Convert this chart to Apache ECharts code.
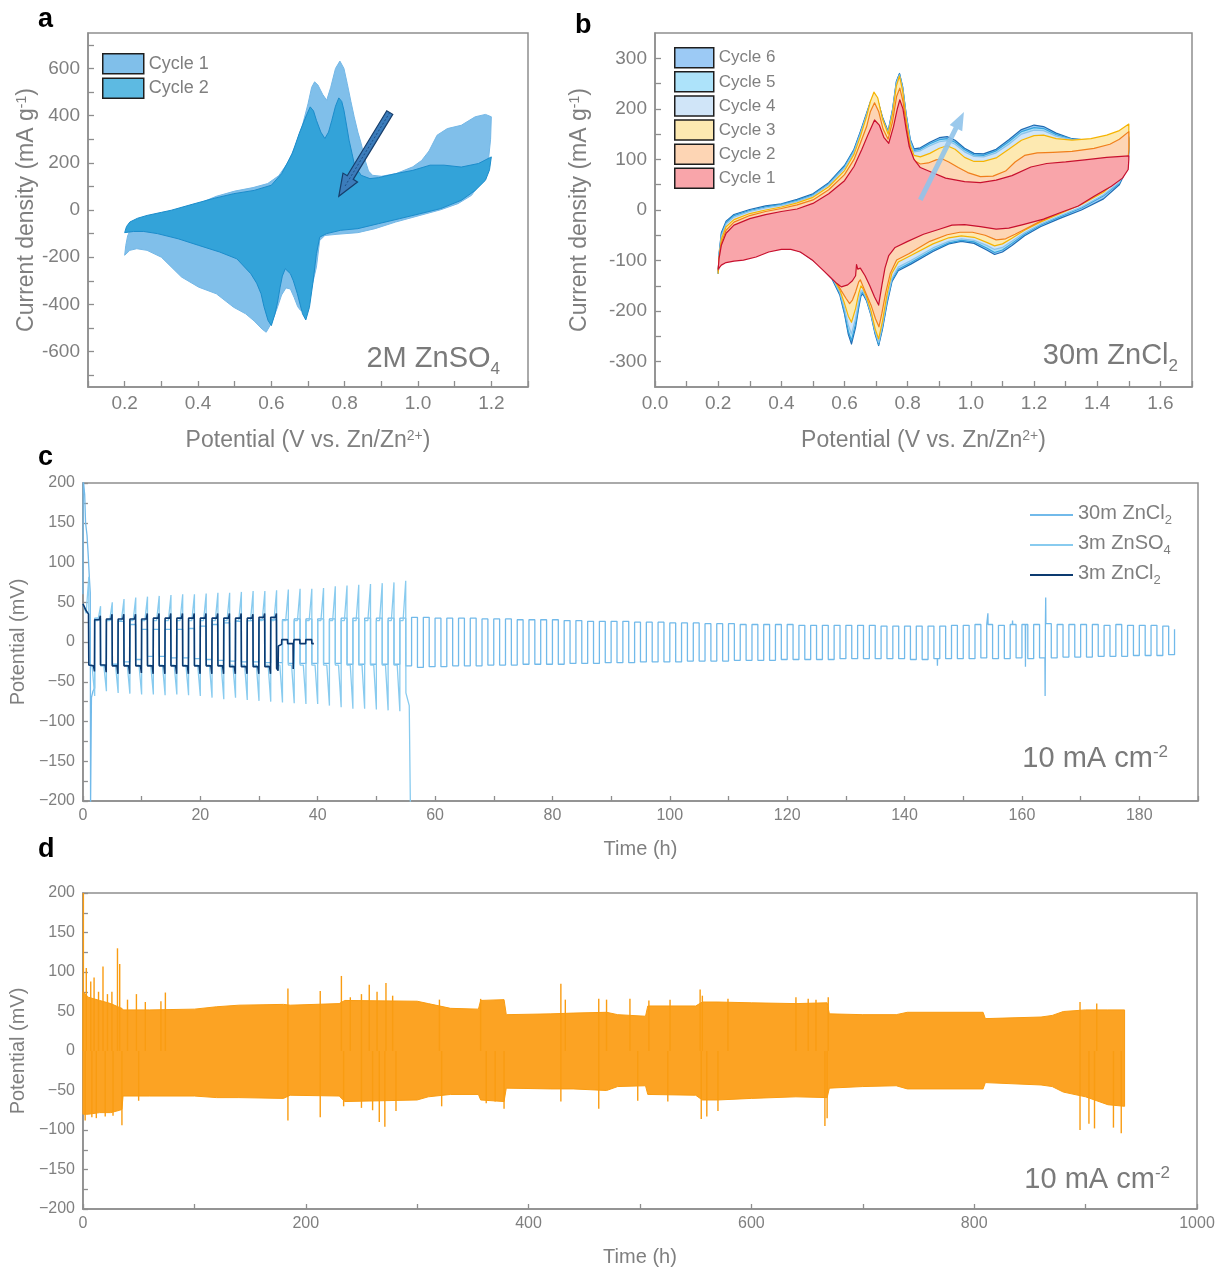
<!DOCTYPE html>
<html><head><meta charset="utf-8">
<script src="https://cdn.jsdelivr.net/npm/echarts@6/dist/echarts.min.js"></script>
<style>html,body{margin:0;padding:0;background:#fff}#c{width:1221px;height:1270px}</style>
</head><body><div id="c"></div>
<script>
// ---------------- DATA ----------------
// Panel a (2M ZnSO4) CV, [V, mA/g]
const aC1Up = [[0.2,-192],[0.203,-150],[0.208,-110],[0.215,-85],[0.23,-65],[0.26,-42],[0.3,-22],[0.35,0],[0.4,26],[0.45,58],[0.5,80],[0.55,95],[0.59,112],[0.62,145],[0.645,200],[0.665,270],[0.685,360],[0.7,450],[0.71,520],[0.718,543],[0.727,530],[0.74,490],[0.751,465],[0.762,520],[0.775,600],[0.787,631],[0.798,600],[0.807,536],[0.817,460],[0.826,395],[0.836,330],[0.845,282],[0.855,215],[0.865,165],[0.876,147],[0.9,143],[0.94,154],[0.986,183],[1.01,210],[1.03,250],[1.052,317],[1.08,345],[1.118,359],[1.156,395],[1.184,405],[1.2,395]];
const aC1Dn = [[1.198,300],[1.193,225],[1.175,126],[1.146,62],[1.109,27],[1.062,1],[1.005,-23],[0.939,-51],[0.883,-79],[0.836,-96],[0.779,-103],[0.746,-108],[0.732,-129],[0.723,-242],[0.708,-341],[0.694,-405],[0.68,-426],[0.672,-410],[0.662,-370],[0.652,-335],[0.64,-330],[0.628,-360],[0.615,-420],[0.6,-480],[0.586,-518],[0.575,-505],[0.553,-470],[0.53,-440],[0.497,-412],[0.45,-355],[0.402,-327],[0.355,-284],[0.3,-200],[0.261,-171],[0.233,-164],[0.214,-171],[0.2,-192]];
const aC2Up = [[0.2,-96],[0.205,-70],[0.214,-51],[0.235,-35],[0.261,-23],[0.3,-10],[0.327,-1],[0.384,24],[0.44,48],[0.497,69],[0.553,83],[0.6,105],[0.628,154],[0.657,239],[0.676,324],[0.694,395],[0.706,437],[0.715,420],[0.723,380],[0.735,330],[0.746,303],[0.756,330],[0.765,380],[0.775,440],[0.784,475],[0.792,460],[0.798,423],[0.805,360],[0.812,296],[0.82,240],[0.826,197],[0.835,170],[0.845,147],[0.869,133],[0.892,137],[0.939,154],[0.986,168],[1.033,190],[1.071,190],[1.118,182],[1.165,197],[1.2,225]];
const aC2Dn = [[1.195,170],[1.184,126],[1.156,83],[1.118,41],[1.062,6],[1.005,-16],[0.949,-37],[0.892,-58],[0.836,-79],[0.789,-86],[0.751,-100],[0.732,-115],[0.723,-185],[0.713,-313],[0.704,-412],[0.694,-466],[0.685,-440],[0.671,-355],[0.66,-300],[0.652,-270],[0.638,-249],[0.63,-280],[0.624,-327],[0.617,-390],[0.61,-440],[0.6,-490],[0.591,-468],[0.58,-410],[0.572,-355],[0.56,-310],[0.544,-270],[0.506,-207],[0.459,-178],[0.402,-150],[0.346,-122],[0.289,-100],[0.252,-91],[0.224,-91],[0.2,-96]];
const aArrow = [[0.923,413],[0.784,58]];

// Panel b (30m ZnCl2) CV
const bC1Up = [[0.2,-117],[0.203,-95],[0.21,-70],[0.225,-46],[0.25,-30],[0.3,-17],[0.35,-9],[0.4,-3],[0.45,2],[0.5,13],[0.55,32],[0.6,58],[0.63,86],[0.655,120],[0.675,150],[0.695,178],[0.71,168],[0.725,143],[0.74,132],[0.755,165],[0.767,200],[0.775,218],[0.785,200],[0.795,160],[0.805,125],[0.82,100],[0.84,84],[0.87,76],[0.92,63],[0.98,56],[1.03,54],[1.08,59],[1.13,68],[1.19,85],[1.24,92],[1.3,95],[1.36,99],[1.43,104],[1.5,107]];
const bC1Dn = [[1.5,100],[1.498,80],[1.48,63],[1.445,47],[1.39,27],[1.34,8],[1.28,-6],[1.23,-18],[1.165,-29],[1.12,-36],[1.08,-38],[1.03,-33],[0.98,-29],[0.94,-30],[0.9,-38],[0.85,-48],[0.8,-62],[0.76,-74],[0.74,-90],[0.728,-115],[0.718,-150],[0.708,-188],[0.695,-172],[0.68,-150],[0.665,-130],[0.65,-115],[0.642,-117],[0.638,-108],[0.635,-130],[0.625,-140],[0.61,-148],[0.59,-152],[0.575,-145],[0.555,-133],[0.53,-118],[0.5,-100],[0.46,-83],[0.43,-78],[0.4,-78],[0.36,-83],[0.32,-93],[0.28,-99],[0.25,-101],[0.225,-104],[0.21,-109],[0.2,-117]];
const bC2Up = [[0.2,-120],[0.203,-95],[0.21,-65],[0.225,-40],[0.25,-24],[0.3,-11],[0.35,-3],[0.4,3],[0.45,10],[0.5,20],[0.55,40],[0.6,70],[0.63,100],[0.65,132],[0.67,165],[0.682,195],[0.695,212],[0.708,195],[0.722,160],[0.738,140],[0.752,175],[0.765,225],[0.775,241],[0.785,215],[0.795,170],[0.808,120],[0.82,98],[0.84,91],[0.865,93],[0.89,99],[0.91,101],[0.93,95],[0.96,84],[0.99,74],[1.03,66],[1.07,67],[1.11,77],[1.14,95],[1.17,108],[1.21,113],[1.26,114],[1.32,116],[1.39,122],[1.44,130],[1.47,140],[1.5,155]];
const bC2Dn = [[1.5,120],[1.497,93],[1.47,66],[1.42,38],[1.35,13],[1.28,-6],[1.23,-19],[1.18,-35],[1.14,-48],[1.11,-57],[1.08,-59],[1.045,-50],[1.005,-44],[0.965,-44],[0.925,-49],[0.87,-62],[0.805,-86],[0.765,-99],[0.745,-125],[0.73,-165],[0.718,-205],[0.709,-231],[0.698,-215],[0.685,-190],[0.67,-168],[0.658,-150],[0.65,-138],[0.645,-142],[0.635,-162],[0.625,-178],[0.616,-185],[0.605,-175],[0.59,-160],[0.575,-143],[0.54,-118],[0.5,-98],[0.45,-76],[0.4,-62],[0.35,-54],[0.3,-49],[0.25,-47],[0.225,-52],[0.21,-70],[0.203,-95],[0.2,-120]];
const bC3Up = [[0.2,-125],[0.203,-95],[0.21,-58],[0.225,-33],[0.25,-19],[0.3,-7],[0.35,0],[0.4,6],[0.45,14],[0.5,25],[0.55,46],[0.6,78],[0.63,110],[0.65,145],[0.67,185],[0.682,215],[0.693,233],[0.705,222],[0.72,180],[0.738,150],[0.752,190],[0.764,245],[0.774,265],[0.784,235],[0.795,180],[0.808,128],[0.82,108],[0.84,105],[0.87,112],[0.9,122],[0.925,127],[0.95,120],[0.98,104],[1.01,96],[1.04,96],[1.08,103],[1.12,120],[1.16,138],[1.2,147],[1.23,148],[1.27,141],[1.32,138],[1.38,141],[1.43,148],[1.47,157],[1.5,170]];
const bC3Dn = [[1.5,125],[1.497,95],[1.47,62],[1.42,35],[1.35,11],[1.28,-8],[1.22,-24],[1.17,-40],[1.13,-56],[1.1,-67],[1.075,-71],[1.05,-64],[1.01,-54],[0.97,-51],[0.93,-55],[0.88,-67],[0.81,-90],[0.77,-103],[0.75,-125],[0.735,-165],[0.72,-220],[0.708,-255],[0.697,-235],[0.684,-200],[0.67,-172],[0.658,-155],[0.652,-150],[0.645,-165],[0.635,-195],[0.622,-222],[0.612,-210],[0.6,-185],[0.585,-158],[0.56,-130],[0.52,-105],[0.47,-82],[0.42,-66],[0.37,-56],[0.32,-50],[0.27,-47],[0.235,-48],[0.215,-60],[0.205,-85],[0.2,-125]];
const bC4Up = [[0.2,-125],[0.203,-90],[0.21,-52],[0.225,-28],[0.25,-14],[0.3,-3],[0.35,4],[0.4,9],[0.45,17],[0.5,28],[0.55,50],[0.6,83],[0.63,115],[0.65,150],[0.67,188],[0.682,212],[0.693,225],[0.705,215],[0.72,180],[0.738,152],[0.752,195],[0.764,250],[0.774,267],[0.784,240],[0.795,185],[0.808,135],[0.82,115],[0.84,117],[0.87,127],[0.9,135],[0.925,137],[0.95,130],[0.98,115],[1.01,106],[1.04,105],[1.08,113],[1.12,130],[1.16,150],[1.2,158],[1.23,157],[1.27,146],[1.32,139],[1.38,138],[1.43,140],[1.47,142],[1.5,145]];
const bC4Dn = [[1.5,120],[1.497,90],[1.47,55],[1.42,30],[1.35,6],[1.28,-12],[1.22,-28],[1.17,-45],[1.13,-62],[1.1,-74],[1.075,-78],[1.05,-70],[1.01,-60],[0.97,-57],[0.93,-62],[0.88,-75],[0.81,-100],[0.77,-113],[0.75,-135],[0.735,-175],[0.72,-228],[0.708,-262],[0.697,-240],[0.684,-205],[0.67,-176],[0.658,-160],[0.652,-160],[0.645,-180],[0.635,-215],[0.622,-245],[0.612,-228],[0.6,-195],[0.585,-162],[0.56,-132],[0.52,-107],[0.47,-84],[0.42,-68],[0.37,-57],[0.32,-51],[0.27,-48],[0.235,-49],[0.215,-62],[0.205,-88],[0.2,-125]];
const bC5Up = [[0.2,-125],[0.203,-88],[0.21,-48],[0.225,-25],[0.25,-11],[0.3,-1],[0.35,6],[0.4,11],[0.45,19],[0.5,30],[0.55,52],[0.6,86],[0.63,118],[0.65,153],[0.67,190],[0.682,213],[0.693,226],[0.705,216],[0.72,182],[0.738,154],[0.752,197],[0.764,252],[0.774,269],[0.784,242],[0.795,188],[0.808,138],[0.82,118],[0.84,120],[0.87,131],[0.9,139],[0.925,141],[0.95,134],[0.98,119],[1.01,109],[1.04,108],[1.08,117],[1.12,135],[1.16,155],[1.2,163],[1.23,161],[1.27,149],[1.32,140],[1.38,138],[1.43,139],[1.47,141],[1.5,144]];
const bC5Dn = [[1.5,118],[1.497,88],[1.47,53],[1.42,28],[1.35,4],[1.28,-14],[1.22,-30],[1.17,-48],[1.13,-66],[1.1,-79],[1.075,-84],[1.05,-75],[1.01,-63],[0.97,-60],[0.93,-65],[0.88,-79],[0.81,-104],[0.77,-117],[0.75,-139],[0.735,-180],[0.72,-232],[0.708,-266],[0.697,-243],[0.684,-207],[0.67,-178],[0.658,-163],[0.652,-165],[0.645,-188],[0.635,-225],[0.622,-258],[0.612,-240],[0.6,-202],[0.585,-165],[0.56,-134],[0.52,-108],[0.47,-85],[0.42,-69],[0.37,-58],[0.32,-52],[0.27,-49],[0.235,-50],[0.215,-63],[0.205,-90],[0.2,-125]];
const bC6Up = [[0.2,-125],[0.203,-85],[0.21,-45],[0.225,-22],[0.25,-9],[0.3,1],[0.35,8],[0.4,12],[0.45,21],[0.5,32],[0.55,54],[0.6,88],[0.63,120],[0.65,155],[0.67,192],[0.682,214],[0.693,227],[0.705,217],[0.72,184],[0.738,156],[0.752,199],[0.764,254],[0.774,270],[0.784,244],[0.795,190],[0.808,140],[0.82,121],[0.84,123],[0.87,134],[0.9,143],[0.925,145],[0.95,138],[0.98,122],[1.01,112],[1.04,111],[1.08,120],[1.12,139],[1.16,159],[1.2,168],[1.23,165],[1.27,152],[1.32,141],[1.38,137],[1.43,137],[1.47,139],[1.5,142]];
const bC6Dn = [[1.5,115],[1.497,85],[1.47,50],[1.42,22],[1.35,0],[1.28,-17],[1.22,-33],[1.17,-51],[1.13,-70],[1.1,-83],[1.075,-88],[1.05,-79],[1.01,-66],[0.97,-62],[0.93,-67],[0.88,-82],[0.81,-107],[0.77,-120],[0.75,-142],[0.735,-184],[0.72,-236],[0.708,-268],[0.697,-246],[0.684,-209],[0.67,-180],[0.658,-166],[0.652,-170],[0.645,-193],[0.635,-232],[0.622,-265],[0.612,-246],[0.6,-206],[0.585,-168],[0.56,-136],[0.52,-109],[0.47,-86],[0.42,-70],[0.37,-59],[0.32,-53],[0.27,-50],[0.235,-51],[0.215,-64],[0.205,-92],[0.2,-125]];
const bArrow = [[0.84,20],[0.978,194]];

// Panel c: galvanostatic cycling (time h, potential mV); half-cycle = 1 h
const cHalf = 1;
const cZc30Start = [[0,60],[0.05,205],[0.3,185],[0.45,150],[0.7,134],[0.9,109],[1.1,80],[1.25,62],[1.3,-205],[1.38,-205],[1.45,-70],[1.7,-62],[2.0,-58]];
const cZc30Up = [30,28,26,22,16,16,16,16,17,20, 22,24,26,27,28,28,28,29,29,29, 29,30,30,30,30,30,30,31,31,30, 30,30,30,29,29,29,28,28,28,28, 27,27,26,26,26,26,25,25,25,24, 24,24,23,23,23,22,22,22,22,22, 21,21,21,21,21,21,21,20,20,20, 20,20,20,21,21,22,22,21,22,22, 22,23,22,22,22,22,21,22,21,21, 21,20];
const cZc30Dn = [-30,-28,-25,-22,-18,-18,-20,-20,-21,-22, -23,-24,-25,-25,-26,-26,-27,-27,-27,-27, -27,-28,-28,-28,-28,-28,-30,-32,-31,-31, -30,-30,-30,-29,-29,-29,-28,-28,-28,-28, -27,-27,-27,-26,-26,-26,-25,-25,-25,-25, -24,-24,-24,-24,-23,-23,-23,-23,-22,-22, -22,-22,-22,-21,-21,-21,-21,-21,-21,-22, -22,-21,-21,-21,-21,-20,-21,-21,-20,-21, -20,-20,-19,-19,-19,-18,-18,-18,-17,-17, -17,-16];
const cZc30End = [[186,16]];
const cZc30Spikes = [[145.6,-30],[154.2,36],[158.4,27],[160.6,-31],[163.95,-68],[164.05,56]];
const cZso4Start = [[0,48],[0.55,36]];
const cZso4TipUp = [82,45,50,54,56,57,58,59,60,60,61,62,62,63,64,64,65,66,67,67,68,70,71,72,73,74,75,77];
const cZso4TipDn = [-68,-62,-64,-65,-66,-66,-67,-66,-67,-68,-70,-72,-70,-73,-74,-75,-76,-77,-78,-78,-80,-82,-84,-84,-85,-86,-87];
const cZso4PlatUp = 27, cZso4PlatDn = -29;
const cZso4End = [[55.03,-64],[55.6,-80],[55.8,-210]];
const cZc3Start = [[0,48],[0.5,40],[0.95,35],[1,35],[1,-29],[1.8,-30],[1.96,-37],[2,-38]];
const cZc3UpS = [28,29,29,29,29,30,30,30,30,30,30,30,30,30,31,31];
const cZc3UpE = [33,35,35,35,36,36,36,36,36,36,36,36,36,35,36,36];
const cZc3DnS = [-29,-30,-30,-30,-30,-30,-30,-30,-30,-30,-30,-31,-31,-31,-31,-33];
const cZc3DnE = [-38,-40,-40,-39,-40,-40,-40,-40,-40,-40,-40,-40,-40,-40,-40];
const cZc3Tail = [[33.25,-36],[33.3,-5],[33.85,-3],[33.88,3],[34.85,3],[34.88,-2],[35.8,-2],[35.83,-34],[35.9,-2],[35.97,3],[36.95,3],[36.98,-2],[37.95,-2],[37.98,3],[38.98,3],[39.0,-2],[39.35,-2]];

// Panel d: long-term cycling envelope (time h, upper/lower mV) + isolated spikes
const dT  = [0,5,15,25,33,35,36,60,100,120,140, 180,186,230,235,300,310,330,355,357,378, 380,420,440,470,480,505,507,550,556,570, 600,640,668,670,700,730,740,808,810,860, 870,880,900,920,935];
const dUp = [75,68,64,60,55,54,52,52,53,56,58, 59,58,60,64,63,60,54,53,64,65, 46,47,48,49,46,44,57,57,62,62, 61,60,61,47,46,46,49,49,41,43, 45,50,52,52,52];
const dLo = [-80,-80,-78,-78,-75,-74,-57,-57,-57,-59,-59, -60,-56,-57,-64,-62,-58,-55,-55,-62,-64, -47,-48,-48,-50,-45,-44,-55,-56,-62,-62, -60,-58,-59,-47,-45,-44,-48,-48,-40,-43, -45,-52,-58,-68,-70];
const dSpikes = [[0.4,200],[3,105],[7,88],[10,93],[14,75],[18,107],[22,72],[26,75],[31,130],[33,110],[40,65],[48,72],[56,62],[70,63],[74,74],[184,79],[213,76],[232,95],[240,68],[250,72],[257,84],[264,75],[272,86],[278,70],[320,65],[357,66],[429,85],[433,65],[463,66],[470,65],[491,66],[508,64],[527,65],[554,78],[556,70],[579,66],[640,68],[651,66],[658,65],[669,68],[895,62],[910,60],
  [2,-88],[8,-84],[12,-85],[20,-83],[27,-82],[35,-94],[50,-63],[184,-88],[213,-84],[234,-70],[250,-72],[260,-75],[266,-90],[271,-96],[281,-76],[322,-70],[362,-66],[370,-64],[378,-73],[429,-64],[463,-73],[498,-63],[525,-64],[555,-86],[560,-83],[570,-76],[666,-95],[668,-85],[895,-100],[903,-92],[908,-98],[925,-97],[932,-104]];

// tick values
const aYLabels = [-600,-400,-200,0,200,400,600];
const aYTicks = [-700,-600,-500,-400,-300,-200,-100,0,100,200,300,400,500,600,700];
const bYLabels = [-300,-200,-100,0,100,200,300];
const bYTicks = [-300,-250,-200,-150,-100,-50,0,50,100,150,200,250,300];

// ---------------- BUILD ----------------
const FONT = "'Liberation Sans', Arial, Helvetica, sans-serif";
const GRAY = '#7f7f7f';
const FRAME = '#8e8e8e';

function cvSeries(name, ai, up, dn, fill, stroke, lw) {
  const pts = up.concat(dn);
  return {
    type: 'custom', name: name, xAxisIndex: ai, yAxisIndex: ai, silent: true,
    data: [pts[0]],
    itemStyle: { color: fill },
    renderItem: function (params, api) {
      return { type: 'polygon', shape: { points: pts.map(p => api.coord(p)) },
        style: { fill: fill, stroke: stroke, lineWidth: lw, lineJoin: 'round' } };
    }
  };
}

// 30m ZnCl2
const zc30 = cZc30Start.slice();
for (let k = 0; k < cZc30Up.length; k++) {
  const t0 = 2 + 2 * k * cHalf;
  zc30.push([t0, cZc30Up[k]], [t0 + cHalf, cZc30Up[k]], [t0 + cHalf, cZc30Dn[k]], [t0 + 2 * cHalf, cZc30Dn[k]]);
}
cZc30End.forEach(p => zc30.push(p));
cZc30Spikes.forEach(([t, v]) => {
  for (let i = 0; i < zc30.length - 1; i++) {
    if (zc30[i][0] <= t && zc30[i + 1][0] > t) {
      const base = zc30[i][1];
      zc30.splice(i + 1, 0, [t - 0.03, base], [t, v], [t + 0.03, base]);
      break;
    }
  }
});
// 3m ZnSO4
const zso4 = cZso4Start.slice();
for (let k = 0; k < cZso4TipUp.length; k++) {
  const t0 = 2 * k * cHalf;
  if (k > 0) zso4.push([t0, cZso4PlatUp], [t0 + 0.55, cZso4PlatUp]);
  zso4.push([t0 + 1, cZso4TipUp[k]]);
  if (k < cZso4TipDn.length) zso4.push([t0 + 1, cZso4PlatDn], [t0 + 1.55, cZso4PlatDn], [t0 + 2, cZso4TipDn[k]]);
}
cZso4End.forEach(p => zso4.push(p));
// 3m ZnCl2
const zc3 = cZc3Start.slice();
for (let k = 0; k < cZc3UpS.length; k++) {
  const t0 = 2 + 2 * k;
  zc3.push([t0, cZc3UpS[k]], [t0 + 0.8, cZc3UpS[k]], [t0 + 0.96, cZc3UpE[k]], [t0 + 1, cZc3UpE[k]], [t0 + 1, cZc3DnS[k]]);
  if (k < cZc3DnE.length) zc3.push([t0 + 1.8, cZc3DnS[k]], [t0 + 1.96, cZc3DnE[k]], [t0 + 2, cZc3DnE[k]]);
}
cZc3Tail.forEach(p => zc3.push(p));

const dBand = dT.map((t, i) => [t, dUp[i]]).concat(dT.map((t, i) => [t, dLo[i]]).reverse());

function xAx(gi, min, max, interval, fs, fmt, name, gap, nfs, nameRich, tickLen) {
  return { gridIndex: gi, type: 'value', min, max, interval,
    axisLine: { show: true, onZero: false, lineStyle: { color: FRAME, width: 1.5 } },
    axisTick: { show: true, inside: true, length: tickLen, lineStyle: { color: FRAME, width: 1.3 } },
    splitLine: { show: false },
    axisLabel: { fontSize: fs, color: GRAY, fontFamily: FONT, margin: 7, formatter: fmt },
    name, nameLocation: 'middle', nameGap: gap,
    nameTextStyle: { fontSize: nfs, color: GRAY, fontFamily: FONT, rich: nameRich } };
}
function yAx(gi, min, max, fs, labelOpt, tickOpt, name, gap, nfs, nameRich, tickLen) {
  return { gridIndex: gi, type: 'value', min, max,
    axisLine: { show: true, onZero: false, lineStyle: { color: FRAME, width: 1.5 } },
    axisTick: Object.assign({ show: true, inside: true, length: tickLen, lineStyle: { color: FRAME, width: 1.3 } }, tickOpt),
    splitLine: { show: false },
    axisLabel: Object.assign({ fontSize: fs, color: GRAY, fontFamily: FONT, margin: 8 }, labelOpt),
    name, nameLocation: 'middle', nameGap: gap, nameRotate: 90,
    nameTextStyle: { fontSize: nfs, color: GRAY, fontFamily: FONT, rich: nameRich } };
}
const richName = {
  n: { fontSize: 23, color: GRAY, fontFamily: FONT, verticalAlign: 'top' },
  p: { fontSize: 14, color: GRAY, fontFamily: FONT, verticalAlign: 'top' }
};
const evenTenth = v => (Math.round(v * 10) % 2 === 0 ? v.toFixed(1) : '');
const mvFmt = v => (v % 50 === 0 ? (v < 0 ? '\u2212' + (-v) : String(v)) : '');

const bFills = ['#f9a5aa', '#fdd5b4', '#fde9b1', '#d0e5f8', '#ade3fa', '#9ccaf5'];
const bLines = ['#c8102e', '#f07f1b', '#f6b400', '#8cc3ea', '#34a3dc', '#1f6cb3'];
const bUps = [bC1Up, bC2Up, bC3Up, bC4Up, bC5Up, bC6Up];
const bDns = [bC1Dn, bC2Dn, bC3Dn, bC4Dn, bC5Dn, bC6Dn];

const series = [];
series.push(cvSeries('a1', 0, aC1Up, aC1Dn, '#80bfea', '#74b7e6', 1));
series.push(cvSeries('a2', 0, aC2Up, aC2Dn, '#33a3d9', '#1b8ccb', 1));
for (let i = 5; i >= 0; i--) series.push(cvSeries('b' + (i + 1), 1, bUps[i], bDns[i], bFills[i], bLines[i], 1.2));
series.push({ type: 'line', name: '30m ZnCl2', xAxisIndex: 2, yAxisIndex: 2, data: zc30, symbol: 'none', showSymbol: false, clip: true, lineStyle: { color: '#72baea', width: 1.3 }, itemStyle: { color: '#72baea' } });
series.push({ type: 'line', name: '3m ZnSO4', xAxisIndex: 2, yAxisIndex: 2, data: zso4, symbol: 'none', showSymbol: false, clip: true, lineStyle: { color: '#88cbef', width: 1.3 }, itemStyle: { color: '#88cbef' } });
series.push({ type: 'line', name: '3m ZnCl2', xAxisIndex: 2, yAxisIndex: 2, data: zc3, symbol: 'none', showSymbol: false, clip: true, lineStyle: { color: '#0c3a70', width: 1.6 }, itemStyle: { color: '#0c3a70' } });
series.push({ type: 'custom', name: 'dband', xAxisIndex: 3, yAxisIndex: 3, silent: true, data: [dBand[0]],
  renderItem: (p, api) => ({ type: 'polygon', shape: { points: dBand.map(q => api.coord(q)) }, style: { fill: '#fca323', stroke: '#f99c12', lineWidth: 1 } }) });
series.push({ type: 'custom', name: 'dspk', xAxisIndex: 3, yAxisIndex: 3, silent: true, clip: true, data: dSpikes,
  renderItem: (p, api) => {
    const a = api.coord([api.value(0), 0]), b = api.coord([api.value(0), api.value(1)]);
    return { type: 'line', shape: { x1: a[0], y1: a[1], x2: b[0], y2: b[1] }, style: { stroke: '#f99c12', lineWidth: 1.4 } };
  } });

const legendName = { a1: 'Cycle 1', a2: 'Cycle 2', b1: 'Cycle 1', b2: 'Cycle 2', b3: 'Cycle 3', b4: 'Cycle 4', b5: 'Cycle 5', b6: 'Cycle 6' };
const cLegendRich = { '30m ZnCl2': '{n|30m ZnCl}{s|2}', '3m ZnSO4': '{n|3m ZnSO}{s|4}', '3m ZnCl2': '{n|3m ZnCl}{s|2}' };

function annot(id, right, top, base, script, isSup) {
  return { type: 'text', id, x: right, y: top, silent: true,
    style: { text: '{n|' + base + '}{' + (isSup ? 'p' : 's') + '|' + script + '}', align: 'right', verticalAlign: 'top',
      rich: { n: { fontSize: 29, fill: '#7a7a7a', fontFamily: FONT, verticalAlign: 'top' },
              s: { fontSize: 17, fill: '#7a7a7a', fontFamily: FONT, verticalAlign: 'top', padding: [17, 0, 0, 0] },
              p: { fontSize: 17, fill: '#7a7a7a', fontFamily: FONT, verticalAlign: 'top' } } } };
}
function panelLabel(id, x, y, t) {
  return { type: 'text', id, x, y, silent: true, style: { text: t, fontSize: 27, fontWeight: 'bold', fill: '#000', fontFamily: FONT } };
}

const option = {
  animation: false,
  textStyle: { fontFamily: FONT },
  grid: [
    { left: 88, top: 33, width: 440, height: 354, show: true, borderColor: FRAME, borderWidth: 1.5 },
    { left: 655, top: 33, width: 537, height: 354, show: true, borderColor: FRAME, borderWidth: 1.5 },
    { left: 81, top: 483, width: 1117, height: 318, show: true, borderColor: FRAME, borderWidth: 1.5 },
    { left: 81, top: 893, width: 1116, height: 316, show: true, borderColor: FRAME, borderWidth: 1.5 }
  ],
  xAxis: [
    xAx(0, 0.1, 1.3, 0.1, 19, evenTenth, '{n|Potential (V vs. Zn/Zn}{p|2+}{n|)}', 42, 23, richName, 6),
    xAx(1, 0, 1.7, 0.1, 19, evenTenth, '{n|Potential (V vs. Zn/Zn}{p|2+}{n|)}', 42, 23, richName, 6),
    xAx(2, 0, 190, 10, 16, v => (v % 20 === 0 ? String(v) : ''), 'Time (h)', 38, 20, null, 5),
    xAx(3, 0, 1000, 100, 16, v => (v % 200 === 0 ? String(v) : ''), 'Time (h)', 38, 20, null, 5)
  ],
  yAxis: [
    yAx(0, -750, 750, 19, { customValues: aYLabels }, { customValues: aYTicks }, '{n|Current density (mA g}{p|-1}{n|)}', 48, 23, richName, 6),
    yAx(1, -350, 350, 19, { customValues: bYLabels }, { customValues: bYTicks }, '{n|Current density (mA g}{p|-1}{n|)}', 64, 23, richName, 6),
    Object.assign(yAx(2, -200, 200, 16, { formatter: mvFmt }, {}, 'Potential (mV)', 47, 20, null, 5), { interval: 25 }),
    Object.assign(yAx(3, -200, 200, 16, { formatter: mvFmt }, {}, 'Potential (mV)', 47, 20, null, 5), { interval: 25 })
  ],
  legend: [
    { left: 102, top: 53, orient: 'vertical', padding: 0, itemWidth: 41, itemHeight: 20, itemGap: 3, icon: 'rect', selectedMode: false,
      formatter: n => legendName[n], textStyle: { fontSize: 18, color: GRAY, fontFamily: FONT },
      data: [{ name: 'a1', itemStyle: { color: '#80bfea', borderColor: '#1e1e1e', borderWidth: 1.5 } },
             { name: 'a2', itemStyle: { color: '#5dbae2', borderColor: '#1e1e1e', borderWidth: 1.5 } }] },
    { left: 674, top: 47, orient: 'vertical', padding: 0, itemWidth: 39, itemHeight: 20, itemGap: 2.6, icon: 'rect', selectedMode: false,
      formatter: n => legendName[n], textStyle: { fontSize: 17, color: GRAY, fontFamily: FONT },
      data: [6, 5, 4, 3, 2, 1].map(i => ({ name: 'b' + i, itemStyle: { color: bFills[i - 1], borderColor: '#1e1e1e', borderWidth: 1.5 } })) },
    { left: 1030, top: 503, orient: 'vertical', padding: 0, itemWidth: 43, itemHeight: 2, itemGap: 6, icon: 'rect', selectedMode: false,
      formatter: n => cLegendRich[n],
      textStyle: { fontSize: 20, color: GRAY, fontFamily: FONT,
        rich: { n: { fontSize: 20, color: GRAY, fontFamily: FONT, verticalAlign: 'top' },
                s: { fontSize: 13, color: GRAY, fontFamily: FONT, verticalAlign: 'top', padding: [11, 0, 0, 0] } } },
      data: ['30m ZnCl2', '3m ZnSO4', '3m ZnCl2'] }
  ],
  series,
  graphic: { elements: [
    panelLabel('la', 38, 6, 'a'), panelLabel('lb', 575, 12, 'b'), panelLabel('lc', 38, 444, 'c'), panelLabel('ld', 38, 836, 'd'),
    annot('ta', 500, 344, '2M ZnSO', '4', false),
    annot('tb', 1178, 341, '30m ZnCl', '2', false),
    annot('tc', 1168, 744, '10 mA cm', '-2', true),
    annot('td', 1170, 1165, '10 mA cm', '-2', true)
  ] }
};

const chart = echarts.init(document.getElementById('c'), null, { renderer: 'canvas' });
chart.setOption(option);

function arrowPts(p1, p2, sw, hw, hl) {
  const dx = p2[0] - p1[0], dy = p2[1] - p1[1], L = Math.hypot(dx, dy), ux = dx / L, uy = dy / L, nx = -uy, ny = ux;
  const bx = p2[0] - ux * hl, by = p2[1] - uy * hl;
  return [[p1[0] + nx * sw / 2, p1[1] + ny * sw / 2], [bx + nx * sw / 2, by + ny * sw / 2], [bx + nx * hw / 2, by + ny * hw / 2], [p2[0], p2[1]],
          [bx - nx * hw / 2, by - ny * hw / 2], [bx - nx * sw / 2, by - ny * sw / 2], [p1[0] - nx * sw / 2, p1[1] - ny * sw / 2]];
}
const pa1 = chart.convertToPixel({ xAxisIndex: 0, yAxisIndex: 0 }, aArrow[0]);
const pa2 = chart.convertToPixel({ xAxisIndex: 0, yAxisIndex: 0 }, aArrow[1]);
const pb1 = chart.convertToPixel({ xAxisIndex: 1, yAxisIndex: 1 }, bArrow[0]);
const pb2 = chart.convertToPixel({ xAxisIndex: 1, yAxisIndex: 1 }, bArrow[1]);
chart.setOption({ graphic: { elements: [
  { type: 'polygon', id: 'arA', silent: true, z: 100, shape: { points: arrowPts(pa1, pa2, 7, 17, 22) }, style: { fill: '#3b7cbb', stroke: '#173e6b', lineWidth: 1.2 } },
  { type: 'line', id: 'arA2', silent: true, z: 101, shape: { x1: pa1[0], y1: pa1[1], x2: pa2[0] + (pa1[0] - pa2[0]) * 0.12, y2: pa2[1] + (pa1[1] - pa2[1]) * 0.12 }, style: { stroke: '#1d4f86', lineWidth: 1, lineDash: [2, 2] } },
  { type: 'polygon', id: 'arB', silent: true, z: 100, shape: { points: arrowPts(pb1, pb2, 5, 14, 18) }, style: { fill: '#90c3ea', opacity: 0.9 } }
] } });
</script></body></html>
